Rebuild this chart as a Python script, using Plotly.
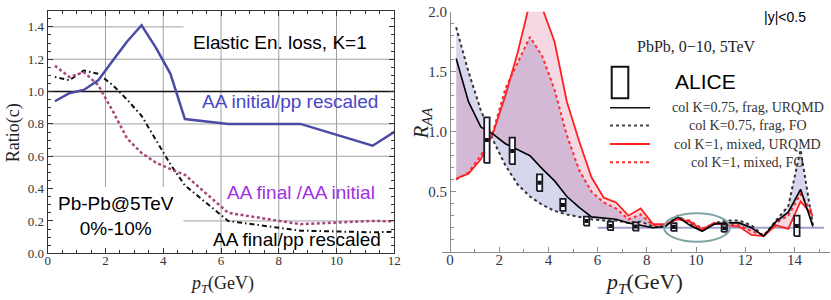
import plotly.graph_objects as go

W, H = 831, 300

# ---------------- Left panel data ----------------
pt_left = [0.25, 0.75, 1.25, 1.75, 2.25, 2.75, 3.25, 3.75, 4.25, 4.75, 6.25, 8.75, 11.25, 13.75]
ratio_initial_pp = [0.94, 0.99, 1.01, 1.07, 1.19, 1.31, 1.41, 1.27, 1.11, 0.83, 0.80, 0.80, 0.665, 0.95]
ratio_final_initial = [1.16, 1.09, 1.12, 1.04, 0.88, 0.71, 0.62, 0.56, 0.52, 0.485, 0.25, 0.18, 0.20, 0.19]
ratio_final_pp = [1.09, 1.07, 1.13, 1.11, 1.04, 0.95, 0.85, 0.70, 0.55, 0.42, 0.20, 0.14, 0.13, 0.14]

# ---------------- Right panel data ----------------
pt_right = [0.25, 0.75, 1.25, 1.75, 2.25, 2.75, 3.25, 3.75, 4.25, 4.75,
            5.25, 5.75, 6.25, 6.75, 7.25, 7.75, 8.25, 8.75, 9.25, 9.75,
            10.25, 10.75, 11.25, 11.75, 12.25, 12.75, 13.25, 13.75, 14.25, 14.75]
raa_k075_urqmd = [1.61, 1.25, 1.04, 0.98, 0.90, 0.85, 0.80, 0.69, 0.59, 0.46,
                  0.37, 0.29, 0.28, 0.27, 0.24, 0.22, 0.20, 0.21, 0.29, 0.22,
                  0.17, 0.23, 0.24, 0.24, 0.20, 0.13, 0.25, 0.33, 0.52, 0.21]
raa_k075_fo = [1.87, 1.50, 1.18, 0.93, 0.72, 0.56, 0.46, 0.39, 0.34, 0.31,
               0.29, 0.27, 0.26, 0.26, 0.24, 0.25, 0.21, 0.21, 0.30, 0.23,
               0.18, 0.24, 0.26, 0.26, 0.22, 0.13, 0.26, 0.38, 0.85, 0.22]
raa_k1_urqmd = [0.61, 0.65, 0.77, 0.99, 1.30, 1.66, 2.08, 2.03, 1.75, 1.25,
                0.92, 0.62, 0.45, 0.41, 0.30, 0.36, 0.23, 0.23, 0.27, 0.25,
                0.18, 0.24, 0.22, 0.21, 0.14, 0.13, 0.22, 0.19, 0.42, 0.30]
raa_k1_fo = [0.60, 0.66, 0.80, 1.00, 1.36, 1.58, 1.79, 1.63, 1.35, 0.97,
             0.68, 0.50, 0.41, 0.36, 0.27, 0.31, 0.22, 0.22, 0.28, 0.26,
             0.19, 0.24, 0.23, 0.22, 0.17, 0.14, 0.24, 0.30, 0.48, 0.32]

alice_pt = [1.50, 2.53, 3.64, 4.59, 5.55, 6.52, 7.55, 9.10, 11.15, 14.10]
alice_raa = [0.93, 0.84, 0.575, 0.39, 0.255, 0.215, 0.21, 0.205, 0.195, 0.215]
alice_sys = [0.19, 0.11, 0.07, 0.05, 0.037, 0.035, 0.035, 0.032, 0.03, 0.085]

ref_pt = [6.0, 15.2]
ref_raa = [0.2, 0.2]

SERIF = "Liberation Serif, Times New Roman, serif"
SANS = "Liberation Sans, Arial, sans-serif"


def px(x, y):
    return x / W, 1 - y / H


fig = go.Figure()

# ---------- left traces ----------
fig.add_trace(go.Scatter(x=pt_left, y=ratio_final_pp, mode="lines",
                         line=dict(color="#111111", width=2, dash="1.5px,3px,5px,3px"),
                         xaxis="x", yaxis="y", showlegend=False, hoverinfo="skip"))
fig.add_trace(go.Scatter(x=pt_left, y=ratio_final_initial, mode="lines",
                         line=dict(color="#a8467e", width=2.5, dash="3px,2.5px"),
                         xaxis="x", yaxis="y", showlegend=False, hoverinfo="skip"))
fig.add_trace(go.Scatter(x=pt_left, y=ratio_initial_pp, mode="lines",
                         line=dict(color="#4b4ba6", width=2.5),
                         xaxis="x", yaxis="y", showlegend=False, hoverinfo="skip"))

# ---------- right fills ----------
LAV = "rgba(95,95,185,0.26)"
PINK = "rgba(205,80,130,0.22)"
fig.add_trace(go.Scatter(x=pt_right, y=raa_k075_fo, mode="lines", line=dict(width=0),
                         xaxis="x2", yaxis="y2", showlegend=False, hoverinfo="skip"))
fig.add_trace(go.Scatter(x=pt_right, y=raa_k1_fo, mode="lines", line=dict(width=0),
                         fill="tonexty", fillcolor=LAV,
                         xaxis="x2", yaxis="y2", showlegend=False, hoverinfo="skip"))
fig.add_trace(go.Scatter(x=pt_right, y=raa_k075_urqmd, mode="lines", line=dict(width=0),
                         xaxis="x2", yaxis="y2", showlegend=False, hoverinfo="skip"))
fig.add_trace(go.Scatter(x=pt_right, y=raa_k1_urqmd, mode="lines", line=dict(width=0),
                         fill="tonexty", fillcolor=PINK,
                         xaxis="x2", yaxis="y2", showlegend=False, hoverinfo="skip"))

# reference line
fig.add_trace(go.Scatter(x=ref_pt, y=ref_raa, mode="lines",
                         line=dict(color="rgba(150,150,205,0.9)", width=2),
                         xaxis="x2", yaxis="y2", showlegend=False, hoverinfo="skip"))

# ---------- right lines ----------
fig.add_trace(go.Scatter(x=pt_right, y=raa_k075_fo, mode="lines",
                         line=dict(color="#333333", width=2, dash="3px,3px"),
                         xaxis="x2", yaxis="y2", showlegend=False, hoverinfo="skip"))
fig.add_trace(go.Scatter(x=pt_right, y=raa_k1_fo, mode="lines",
                         line=dict(color="#ff2a2a", width=2, dash="3px,3px"),
                         xaxis="x2", yaxis="y2", showlegend=False, hoverinfo="skip"))
fig.add_trace(go.Scatter(x=pt_right, y=raa_k1_urqmd, mode="lines",
                         line=dict(color="#ff2020", width=1.8),
                         xaxis="x2", yaxis="y2", showlegend=False, hoverinfo="skip"))
fig.add_trace(go.Scatter(x=pt_right, y=raa_k075_urqmd, mode="lines",
                         line=dict(color="#000000", width=1.6),
                         xaxis="x2", yaxis="y2", showlegend=False, hoverinfo="skip"))

# ALICE boxes built from data
half_w = 0.11
bx, by = [], []
for x, y, e in zip(alice_pt, alice_raa, alice_sys):
    bx += [x - half_w, x + half_w, x + half_w, x - half_w, x - half_w, None]
    by += [y - e, y - e, y + e, y + e, y - e, None]
fig.add_trace(go.Scatter(x=bx, y=by, mode="lines", fill="toself", fillcolor="white",
                         line=dict(color="#1a1a2a", width=1.8),
                         xaxis="x2", yaxis="y2", showlegend=False, hoverinfo="skip"))
fig.add_trace(go.Scatter(x=alice_pt, y=alice_raa, mode="markers",
                         marker=dict(symbol="square", size=4, color="#111111"),
                         xaxis="x2", yaxis="y2", showlegend=False, hoverinfo="skip"))

shapes = []
# left grid segments
GRID = "#a0a0a0"
for yv, x0, x1 in [(1.4, 0, 4.7), (1.2, 0, 12), (0.8, 0, 12), (0.6, 0, 12), (0.2, 4.7, 12)]:
    shapes.append(dict(type="line", xref="x", yref="y", x0=x0, x1=x1, y0=yv, y1=yv,
                       line=dict(color=GRID, width=1), layer="below"))
for xv, y0, y1 in [(2, 0.41, 1.5), (4, 0.41, 1.5), (6, 0, 1.5), (8, 0, 1.5), (10, 0, 1.5)]:
    shapes.append(dict(type="line", xref="x", yref="y", x0=xv, x1=xv, y0=y0, y1=y1,
                       line=dict(color=GRID, width=1), layer="below"))
shapes.append(dict(type="line", xref="x", yref="y", x0=0, x1=12, y0=1.0, y1=1.0,
                   line=dict(color="#111111", width=1.5), layer="below"))

# ellipse highlight
shapes.append(dict(type="circle", xref="x2", yref="y2", x0=8.7, x1=11.38, y0=0.083, y1=0.32,
                   line=dict(color="#7fa5a5", width=2)))

# legend samples (paper coords)
def pline(x0, x1, y, color, dash=None, width=2):
    a0, b0 = px(x0, y)
    a1, _ = px(x1, y)
    d = dict(color=color, width=width)
    if dash:
        d["dash"] = dash
    return dict(type="line", xref="paper", yref="paper", x0=a0, x1=a1, y0=b0, y1=b0, line=d)

rx0, ry0 = px(611.7, 66.7)
rx1, ry1 = px(628.3, 98.3)
shapes.append(dict(type="rect", xref="paper", yref="paper", x0=rx0, x1=rx1, y0=ry1, y1=ry0,
                   line=dict(color="#111111", width=2)))
shapes.append(pline(610, 650, 107.7, "#111111", None, 1.6))
shapes.append(pline(610, 650, 125.5, "#444444", "3px,3px", 2))
shapes.append(pline(610, 650, 144, "#ff2020", None, 1.8))
shapes.append(pline(610, 650, 162.3, "#ff2a2a", "3px,3px", 2))

annotations = []

def ann(text, x, y, size, color="#000000", family=SANS, angle=0):
    ax, ay = px(x, y)
    annotations.append(dict(text=text, x=ax, y=ay, xref="paper", yref="paper",
                            showarrow=False, xanchor="center", yanchor="middle",
                            font=dict(size=size, color=color, family=family), textangle=angle))

ann("Elastic En. loss, K=1", 280, 42.7, 19)
ann("AA initial/pp rescaled", 290, 101.7, 19, "#4646c8")
ann("AA final /AA initial", 301, 192.7, 19, "#a030e0")
ann("AA final/pp rescaled", 297, 239.3, 19)
ann("Pb-Pb@5TeV<br>0%-10%", 116, 215.5, 19)
ann("Ratio(c)", 13.3, 133, 18, "#222222", SERIF, -90)
ann("<i>p</i><sub><i>T</i></sub>(GeV)", 222, 284, 18, "#222222", SERIF)

ann("|y|<0.5", 785, 17.3, 14)
ann("PbPb, 0\u221210, 5TeV", 696.7, 46.7, 16, "#222222", SERIF)
ann("ALICE", 705, 81.7, 21)
ann("col K=0.75, frag, URQMD", 747.5, 107.7, 14, "#333333", SERIF)
ann("col K=0.75, frag, FO", 747.5, 125.5, 14, "#333333", SERIF)
ann("col K=1, mixed, URQMD", 747.5, 144, 14, "#333333", SERIF)
ann("col K=1, mixed, FO", 747.5, 162.3, 14, "#333333", SERIF)
ann("<i>R</i><sub><i>AA</i></sub>", 421.5, 123, 21, "#222222", SERIF, -90)
ann("<i>p</i><sub><i>T</i></sub>(GeV)", 644, 283, 22, "#222222", SERIF)

lx0, _ = px(47.7, 0)
lx1, _ = px(394.3, 0)
_, ly0 = px(0, 253.3)
_, ly1 = px(0, 10.7)

rx0d, _ = px(441.9, 0)
rx1d, _ = px(830.1, 0)
_, ry0d = px(0, 251.7)
_, ry1d = px(0, 11.7)
ypos, _ = px(450, 0)

fig.update_layout(
    width=W, height=H,
    margin=dict(l=0, r=0, t=0, b=0, pad=0, autoexpand=False),
    paper_bgcolor="white", plot_bgcolor="white",
    showlegend=False, hovermode=False,
    shapes=shapes, annotations=annotations,
    xaxis=dict(domain=[lx0, lx1], range=[0, 12], anchor="y", automargin=False,
               showgrid=False, zeroline=False, showline=True, mirror="ticks",
               linecolor="#333333", linewidth=1,
               ticks="inside", ticklen=5, tickcolor="#333333",
               tickvals=[0, 2, 4, 6, 8, 10, 12], ticklabelstandoff=-5,
               minor=dict(dtick=0.5, tick0=0, ticks="inside", ticklen=3, tickcolor="#333333", showgrid=False),
               tickfont=dict(family=SERIF, size=13, color="#333333")),
    yaxis=dict(domain=[ly0, ly1], range=[0, 1.5], anchor="x", automargin=False,
               showgrid=False, zeroline=False, showline=True, mirror="ticks",
               linecolor="#333333", linewidth=1,
               ticks="inside", ticklen=5, tickcolor="#333333",
               tickvals=[0, 0.2, 0.4, 0.6, 0.8, 1.0, 1.2, 1.4],
               ticktext=["0.0", "0.2", "0.4", "0.6", "0.8", "1.0", "1.2", "1.4"],
               minor=dict(dtick=0.05, tick0=0, ticks="inside", ticklen=3, tickcolor="#333333", showgrid=False),
               tickfont=dict(family=SERIF, size=13, color="#333333")),
    xaxis2=dict(domain=[rx0d, rx1d], range=[-0.33, 15.45], anchor="y2", automargin=False,
                showgrid=False, zeroline=False, showline=True, linecolor="#8c8c8c", linewidth=1,
                ticks="inside", ticklen=5, tickcolor="#8c8c8c",
                tickvals=[0, 2, 4, 6, 8, 10, 12, 14], ticklabelstandoff=-6,
                minor=dict(dtick=1, tick0=0, ticks="inside", ticklen=3, tickcolor="#8c8c8c", showgrid=False),
                tickfont=dict(family=SERIF, size=15, color="#33334d")),
    yaxis2=dict(domain=[ry0d, ry1d], range=[0, 2.0], anchor="free", position=ypos, automargin=False,
                showgrid=False, zeroline=False, showline=True, linecolor="#8c8c8c", linewidth=1,
                ticks="inside", ticklen=5, tickcolor="#8c8c8c",
                tickvals=[0.5, 1.0, 1.5, 2.0], ticktext=["0.5", "1.0", "1.5", "2.0"],
                minor=dict(dtick=0.1, tick0=0, ticks="inside", ticklen=3, tickcolor="#8c8c8c", showgrid=False),
                tickfont=dict(family=SERIF, size=15, color="#33334d")),
)

fig.write_html("out.html", config={"displayModeBar": False, "staticPlot": True},
               post_script="document.body.style.margin='0px';document.body.style.overflow='hidden';")
